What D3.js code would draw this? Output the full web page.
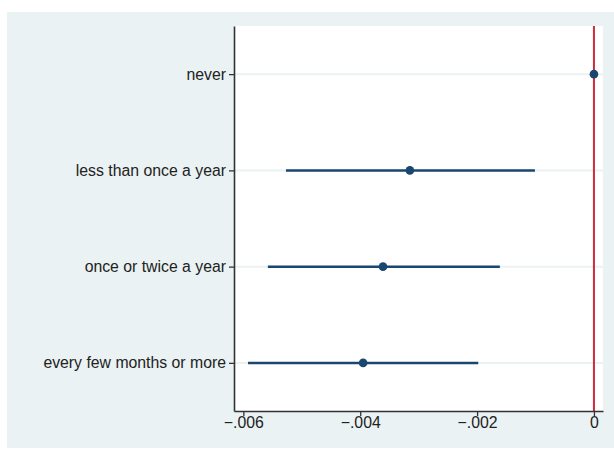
<!DOCTYPE html>
<html>
<head>
<meta charset="utf-8">
<script src="https://cdn.jsdelivr.net/npm/d3@7"></script>
<style>
  body { margin: 0; background: #ffffff; }
  text { font-family: "Liberation Sans", Arial, Helvetica, sans-serif; }
</style>
</head>
<body>
<div id="chart_container"></div>
<script>
// coefficients
var categories = ["never", "less than once a year", "once or twice a year", "every few months or more"];
var estimates = [0, -0.00315, -0.00361, -0.00395];
var ciLow = [0, -0.00527, -0.00558, -0.00592];
var ciHigh = [0, -0.00101, -0.00161, -0.00198];
var xTicks = [-0.006, -0.004, -0.002, 0];
var xTickLabels = ["\u2212.006", "\u2212.004", "\u2212.002", "0"];

var chart_width = 614;
var chart_height = 450;

var margin = {top: 26, right: 11, bottom: 39, left: 234};
var width = chart_width - margin.left - margin.right;
var height = chart_height - margin.top - margin.bottom;

var navy = "#1a476f";
var bg = "#eaf2f3";

var svg = d3.select("#chart_container")
    .append("svg")
    .attr("width", chart_width)
    .attr("height", chart_height);

// outer graph region
svg.append("rect")
    .attr("x", 7)
    .attr("y", 12)
    .attr("width", chart_width - 7)
    .attr("height", 436)
    .attr("fill", bg);

var plot = svg.append("g")
    .attr("transform", "translate(" + margin.left + "," + margin.top + ")");

plot.append("rect")
    .attr("width", width)
    .attr("height", height)
    .attr("fill", "#ffffff");

var x = d3.scaleLinear()
    .domain([-0.00616, 0.000155])
    .range([0, width]);

var y = d3.scaleLinear()
    .domain([0.5, 4.5])
    .range([0, height]);

var rows = categories.map(function(c, i) {
    return {name: c, pos: i + 1, b: estimates[i], lo: ciLow[i], hi: ciHigh[i]};
});

// gridlines
plot.selectAll(".grid")
    .data(rows)
    .enter()
    .append("line")
    .attr("class", "grid")
    .attr("x1", 0)
    .attr("x2", width)
    .attr("y1", function(d) { return y(d.pos); })
    .attr("y2", function(d) { return y(d.pos); })
    .style("stroke", bg)
    .style("stroke-width", 2);

// reference line at zero
plot.append("line")
    .attr("x1", x(0))
    .attr("x2", x(0))
    .attr("y1", 0)
    .attr("y2", height)
    .style("stroke", "#cf2a40")
    .style("stroke-width", 2);

// confidence intervals
plot.selectAll(".ci")
    .data(rows)
    .enter()
    .append("line")
    .attr("class", "ci")
    .attr("x1", function(d) { return x(d.lo); })
    .attr("x2", function(d) { return x(d.hi); })
    .attr("y1", function(d) { return y(d.pos); })
    .attr("y2", function(d) { return y(d.pos); })
    .style("stroke", navy)
    .style("stroke-width", 2.5);

// point estimates
plot.selectAll(".pt")
    .data(rows)
    .enter()
    .append("circle")
    .attr("class", "pt")
    .attr("cx", function(d) { return x(d.b); })
    .attr("cy", function(d) { return y(d.pos); })
    .attr("r", 4.3)
    .attr("fill", navy);

// axes
var xAxis = d3.axisBottom(x)
    .tickValues(xTicks)
    .tickFormat(function(d, i) { return xTickLabels[i]; })
    .tickSizeInner(5)
    .tickSizeOuter(0)
    .tickPadding(1);

var yAxis = d3.axisLeft(y)
    .tickValues(rows.map(function(d) { return d.pos; }))
    .tickFormat(function(d) { return categories[d - 1]; })
    .tickSizeInner(5)
    .tickSizeOuter(0)
    .tickPadding(3);

var gx = plot.append("g")
    .attr("transform", "translate(0," + height + ")")
    .call(xAxis);

var gy = plot.append("g")
    .call(yAxis);

[gx, gy].forEach(function(g) {
    g.select(".domain").style("stroke", "#333333").style("stroke-width", 1.6);
    g.selectAll(".tick line").style("stroke", "#333333").style("stroke-width", 1.3);
    g.selectAll(".tick text")
        .style("font-size", "15.8px")
        .style("fill", "#222222")
        .style("font-family", "'Liberation Sans', Arial, sans-serif");
});
</script>
</body>
</html>
